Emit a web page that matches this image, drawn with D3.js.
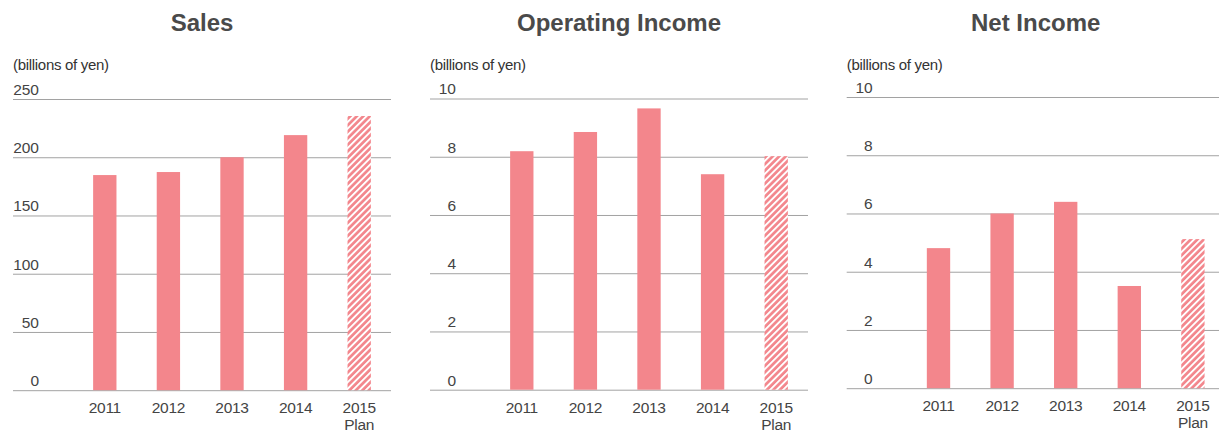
<!DOCTYPE html>
<html>
<head>
<meta charset="utf-8">
<script src="https://cdn.jsdelivr.net/npm/d3@7"></script>
<style>
  html, body { margin: 0; padding: 0; background: #fff; }
  svg { display: block; font-family: "Liberation Sans", Arial, "Helvetica Neue", sans-serif; }
</style>
</head>
<body>
<svg id="chart" width="1219" height="432"></svg>
<script>
// Fiscal years shown on every panel
const years = ["2011", "2012", "2013", "2014", "2015"];
const planYear = "2015";

// Values in billions of yen
const salesValues = [184.7, 187.3, 200.0, 219.0, 235.4];
const operatingIncomeValues = [8.19, 8.85, 9.66, 7.40, 8.02];
const netIncomeValues = [4.81, 6.00, 6.40, 3.51, 5.12];

// Axis ticks per panel
const salesTicks = [0, 50, 100, 150, 200, 250];
const incomeTicks = [0, 2, 4, 6, 8, 10];

const panelTitles = ["Sales", "Operating Income", "Net Income"];
const unitLabel = "(billions of yen)";

const panels = [
  { title: panelTitles[0], values: salesValues, ticks: salesTicks, max: 250, x: 13, top: 99 },
  { title: panelTitles[1], values: operatingIncomeValues, ticks: incomeTicks, max: 10, x: 430, top: 98.5 },
  { title: panelTitles[2], values: netIncomeValues, ticks: incomeTicks, max: 10, x: 846.7, top: 97 }
];

const barColor = "#f3868c";
const gridColor = "#a2a2a2";
const textColor = "#444";
const panelWidth = 378;
const plotHeight = 291.2;
const labelArea = 26;   // right edge of tick labels, from the panel's left edge
const bandStart = 60;

const svg = d3.select("#chart");

// Diagonal stripes for the plan year
const defs = svg.append("defs");
const pat = defs.append("pattern")
  .attr("id", "planHatch")
  .attr("patternUnits", "userSpaceOnUse")
  .attr("width", 4.6)
  .attr("height", 4.6)
  .attr("patternTransform", "rotate(45)");
pat.append("rect").attr("width", 4.6).attr("height", 4.6).attr("fill", barColor);
pat.append("rect").attr("width", 1.9).attr("height", 4.6).attr("fill", "#fff");

panels.forEach(p => {
  const g = svg.append("g").attr("transform", `translate(${p.x},0)`);

  const y = d3.scaleLinear().domain([0, p.max]).range([p.top + plotHeight, p.top]);
  const x = d3.scaleBand().domain(years).range([bandStart, panelWidth])
    .paddingInner(0.633).paddingOuter(0.3165);

  // Title
  g.append("text")
    .attr("x", panelWidth / 2)
    .attr("y", 30.5)
    .attr("text-anchor", "middle")
    .attr("font-size", 24)
    .attr("font-weight", "bold")
    .attr("fill", "#4a4a4a")
    .text(p.title);

  // Unit label
  g.append("text")
    .attr("x", 0)
    .attr("y", 69.5)
    .attr("font-size", 15)
    .attr("letter-spacing", "-0.3")
    .attr("fill", "#333")
    .text(unitLabel);

  // Gridlines with labels sitting above them
  const yAxis = d3.axisLeft(y).tickValues(p.ticks).tickSize(-panelWidth).tickFormat(d3.format("d"));
  const ax = g.append("g").call(yAxis);
  ax.select(".domain").remove();
  ax.selectAll(".tick line").attr("stroke", gridColor).attr("stroke-width", 1);
  ax.selectAll(".tick text")
    .attr("x", labelArea)
    .attr("dy", "-0.3em")
    .attr("text-anchor", "end")
    .attr("font-size", 15.5)
    .attr("font-family", "\"Liberation Sans\", Arial, sans-serif")
    .attr("fill", textColor);

  // Bars
  g.selectAll("rect.bar")
    .data(years.map((yr, i) => ({ year: yr, value: p.values[i] })))
    .join("rect")
    .attr("class", "bar")
    .attr("x", d => x(d.year))
    .attr("width", x.bandwidth())
    .attr("y", d => y(d.value))
    .attr("height", d => y(0) - y(d.value))
    .attr("fill", d => d.year === planYear ? "url(#planHatch)" : barColor);

  // Year labels
  const xAxis = d3.axisBottom(x).tickSize(0).tickPadding(0);
  const xa = g.append("g").attr("transform", `translate(0,${y(0)})`).call(xAxis);
  xa.select(".domain").remove();
  xa.selectAll(".tick text").remove();
  xa.selectAll(".tick").each(function (d) {
    const t = d3.select(this).append("text")
      .attr("text-anchor", "middle")
      .attr("font-size", 15.5)
      .attr("font-family", "\"Liberation Sans\", Arial, sans-serif")
      .attr("fill", textColor)
      .attr("letter-spacing", "-0.3");
    t.append("tspan").attr("x", 0).attr("y", 23).text(d);
    if (d === planYear) t.append("tspan").attr("x", 0).attr("y", 40).text("Plan");
  });
});
</script>
</body>
</html>
